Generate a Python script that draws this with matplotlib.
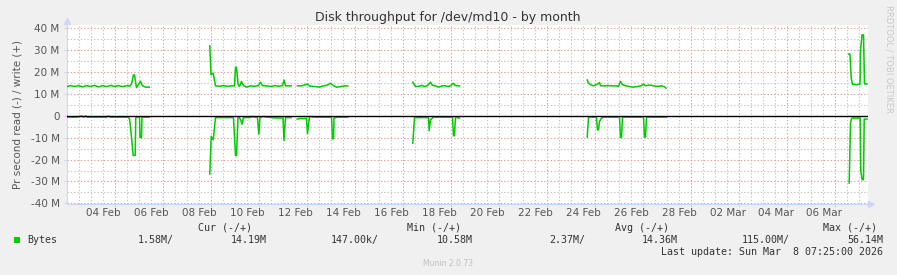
import numpy as np
import matplotlib
matplotlib.use('Agg')
import matplotlib.pyplot as plt

W, H = 897, 275
nan = np.nan

# time in hours from left edge of graph, values in MBytes/s
write_t = [1, 4, 8, 12, 16, 20, 24, 28, 32, 36, 40, 44, 48, 52, 56, 60, 63, 65, 67, 68, 70, 72, 74, 76, 79, 82.7, 83,
           143.3, 144.5, 146.7, 149, 153, 157, 161, 165, 168, 169, 170, 171.5, 173, 175, 177, 180, 184, 188, 192, 194, 196,
           200, 204, 208, 212, 216, 217.5, 219, 224.7, 225,
           231, 235, 241, 243, 248, 253, 256, 260, 264, 267, 270, 274, 278, 281.3, 282,
           346.3, 349, 352, 355, 358, 361, 364, 366, 369, 372, 375, 378, 381, 384, 386.7, 389, 393, 394,
           520.7, 522, 524, 527, 531, 533, 534, 538, 542, 546, 550, 552, 554, 556, 559, 563, 567, 571, 575, 577, 579,
           583, 587, 591, 595, 598, 599.5, 600,
           782.3, 783.5, 784.7, 786, 790, 793.5, 794, 795.5, 797, 798, 800.5]
write_v = [13.4, 13.8, 13.4, 13.8, 13.2, 13.8, 13.4, 13.9, 13.2, 13.8, 13.3, 13.9, 13.4, 13.8, 13.3, 13.8, 13.6, 14.5, 18.7, 18.7, 12.9, 14.2, 15.8, 13.7, 13.1, 13.1, nan,
           32.0, 18.7, 19.5, 13.7, 13.5, 13.8, 13.5, 13.7, 13.7, 22.2, 22.2, 14.5, 13.4, 15.7, 13.8, 13.1, 13.7, 13.5, 13.8, 15.4, 13.8,
           13.7, 13.4, 13.8, 13.5, 13.8, 16.4, 13.7, 13.7, nan,
           13.7, 13.7, 14.5, 13.6, 13.4, 13.1, 13.6, 13.9, 14.9, 13.8, 13.1, 13.3, 13.7, 13.6, nan,
           15.4, 13.4, 13.4, 13.9, 13.4, 13.8, 15.4, 13.9, 13.7, 13.1, 13.6, 13.8, 13.4, 13.7, 14.9, 13.8, 13.7, nan,
           16.4, 14.9, 14.2, 13.7, 14.5, 15.2, 13.7, 13.7, 13.8, 13.7, 13.7, 13.4, 15.7, 14.3, 13.7, 13.4, 13.1, 13.4, 13.8, 14.5, 13.7,
           14.1, 13.7, 13.4, 13.7, 13.3, 12.6, nan,
           28.2, 28.2, 17.2, 14.5, 14.2, 14.5, 29.7, 37.0, 37.0, 14.6, 14.6]

read_t = [0, 10, 15, 17, 19, 21, 40, 42, 44, 61.7, 63, 64.3, 66.7, 68.7, 69.3, 73, 73.5, 75, 75.5, 82.7, 83,
          143.3, 144.7, 146.7, 149, 166, 167, 169, 170, 171.5, 173, 174.5, 175.5, 177, 184, 185, 187, 191, 192.3, 193.5,
          197, 199, 209, 216.5, 217.5, 219, 224.7, 225,
          230.7, 234, 240, 241, 243, 248, 254, 265, 266, 267, 267.5, 271, 281.3, 282,
          346.3, 348, 362, 362.7, 364, 367, 386, 387, 388, 389, 392, 393, 394,
          520.7, 522, 529, 530, 531, 532, 533, 535, 537, 553, 554, 555, 556, 577, 578, 579, 580, 599.7, 600,
          782.7, 784, 785, 786, 793.7, 794.3, 795.7, 797, 797.7, 800.5]
read_v = [0.6, 0.6, 0.1, 0.6, 0.1, 0.6, 0.6, 0.1, 0.6, 0.6, 1.4, 6.4, 18.1, 18.1, 0.6, 0.6, 9.9, 9.9, 0.6, 0.6, nan,
          26.6, 9.4, 11.0, 0.8, 0.8, 1.0, 18.1, 18.1, 0.8, 0.8, 2.2, 3.8, 0.8, 0.8, 0.3, 0.5, 0.8, 8.4, 0.8,
          0.3, 0.5, 1.0, 1.0, 11.3, 0.8, 0.8, nan,
          1.5, 1.2, 1.2, 8.2, 0.3, 0.6, 0.6, 0.6, 10.5, 10.5, 1.0, 0.6, 0.6, nan,
          12.5, 0.8, 0.8, 6.8, 1.8, 0.6, 0.6, 9.1, 9.1, 0.6, 1.0, 1.0, nan,
          9.7, 0.6, 0.6, 1.0, 6.4, 6.4, 2.6, 1.0, 0.6, 0.6, 9.9, 9.9, 0.6, 0.6, 9.7, 9.7, 0.6, 0.6, nan,
          30.7, 3.3, 1.4, 1.0, 1.0, 25.4, 29.2, 29.2, 1.5, 1.5]

day_labels = ['04 Feb', '06 Feb', '08 Feb', '10 Feb', '12 Feb', '14 Feb', '16 Feb', '18 Feb',
              '20 Feb', '22 Feb', '24 Feb', '26 Feb', '28 Feb', '02 Mar', '04 Mar', '06 Mar']
y_labels = ['-40 M', '-30 M', '-20 M', '-10 M', '0', '10 M', '20 M', '30 M', '40 M']

legend_head = ['Cur (-/+)', 'Min (-/+)', 'Avg (-/+)', 'Max (-/+)']
legend_vals = ['1.58M/', '14.19M', '147.00k/', '10.58M', '2.37M/', '14.36M', '115.00M/', '56.14M']

green = '#00CC00'
axcol = '#CFD6F8'
txt = '#555555'

fig = plt.figure(figsize=(W / 100, H / 100), dpi=100, facecolor='#F0F0F0')
# plot area in pixels: x 66.5..867.5, y 25..204
ax = fig.add_axes([66.5 / W, (H - 204) / H, 801 / W, 179 / H])
ax.set_facecolor('white')
xmax = 801
ax.set_xlim(0, xmax)
ax.set_ylim(-40.3, 41.5)

dot = (0, (1.2, 1.8))
for h in np.arange(12, xmax, 12):
    c = '#E89A9A' if h % 48 == 0 else '#C4C4C4'
    ax.axvline(h, color=c, lw=0.8, ls=dot, zorder=1)
for v in np.arange(-40, 41, 5):
    if v == 0:
        continue
    c = '#E89A9A' if v % 10 == 0 else '#C4C4C4'
    ax.axhline(v, color=c, lw=0.8, ls=dot, zorder=1)

ax.plot(write_t, write_v, color=green, lw=1.1, zorder=3)
ax.plot(read_t, -np.array(read_v), color=green, lw=1.1, zorder=3)
ax.axhline(0, color='black', lw=1.0, zorder=4)

for s in ['top', 'right']:
    ax.spines[s].set_visible(False)
ax.spines['left'].set_color(axcol)
ax.spines['bottom'].set_color(axcol)
ax.plot([0], [1.02], marker='^', color=axcol, ms=4, transform=ax.transAxes, clip_on=False)
ax.plot([1.004], [0], marker='>', color=axcol, ms=4, transform=ax.transAxes, clip_on=False)

ax.set_yticks(np.arange(-40, 41, 10))
ax.set_yticklabels(y_labels)
ax.tick_params(axis='y', length=2, color=axcol, labelsize=7.5, labelcolor=txt, pad=3)
ax.set_xticks(np.arange(48, xmax, 48))
ax.set_xticklabels([])
ax.tick_params(axis='x', which='major', length=2, color=axcol)
ax.set_xticks(37 + 48 * np.arange(len(day_labels)), minor=True)
ax.set_xticklabels(day_labels, minor=True)
ax.tick_params(axis='x', which='minor', length=0, labelsize=7.5, labelcolor=txt, pad=3)

ax.set_ylabel('Pr second read (-) / write (+)', fontsize=7.5, color=txt, labelpad=6)

def ftext(x, y, s, **kw):
    fig.text(x / W, 1 - y / H, s, **kw)

ftext(448, 18, 'Disk throughput for /dev/md10 - by month', fontsize=9, color='#333333', ha='center', va='center')
ftext(889, 5, 'RRDTOOL / TOBI OETIKER', fontsize=6, color='#C8C8C8', rotation=270, ha='center', va='top')
ftext(448, 264, 'Munin 2.0.73', fontsize=5.5, color='#C0C0C0', ha='center', va='center')

mono = dict(family='DejaVu Sans Mono', fontsize=7.2, color='#333333', va='center')
fig.patches.append(plt.Rectangle((13.5 / W, 1 - 243 / H), 6.5 / W, 6.5 / H, transform=fig.transFigure,
                                 facecolor=green, edgecolor='none'))
ftext(27, 240, 'Bytes', ha='left', **mono)
for x, s in zip([198, 407, 615, 823], legend_head):
    ftext(x, 228, s, ha='left', **mono)
for x, s in zip([174, 267, 379, 473, 585, 678, 790, 883], legend_vals):
    ftext(x, 240, s, ha='right', **mono)
ftext(883, 252, 'Last update: Sun Mar  8 07:25:00 2026', ha='right', **mono)

fig.savefig('out.png', dpi=100, facecolor=fig.get_facecolor())
